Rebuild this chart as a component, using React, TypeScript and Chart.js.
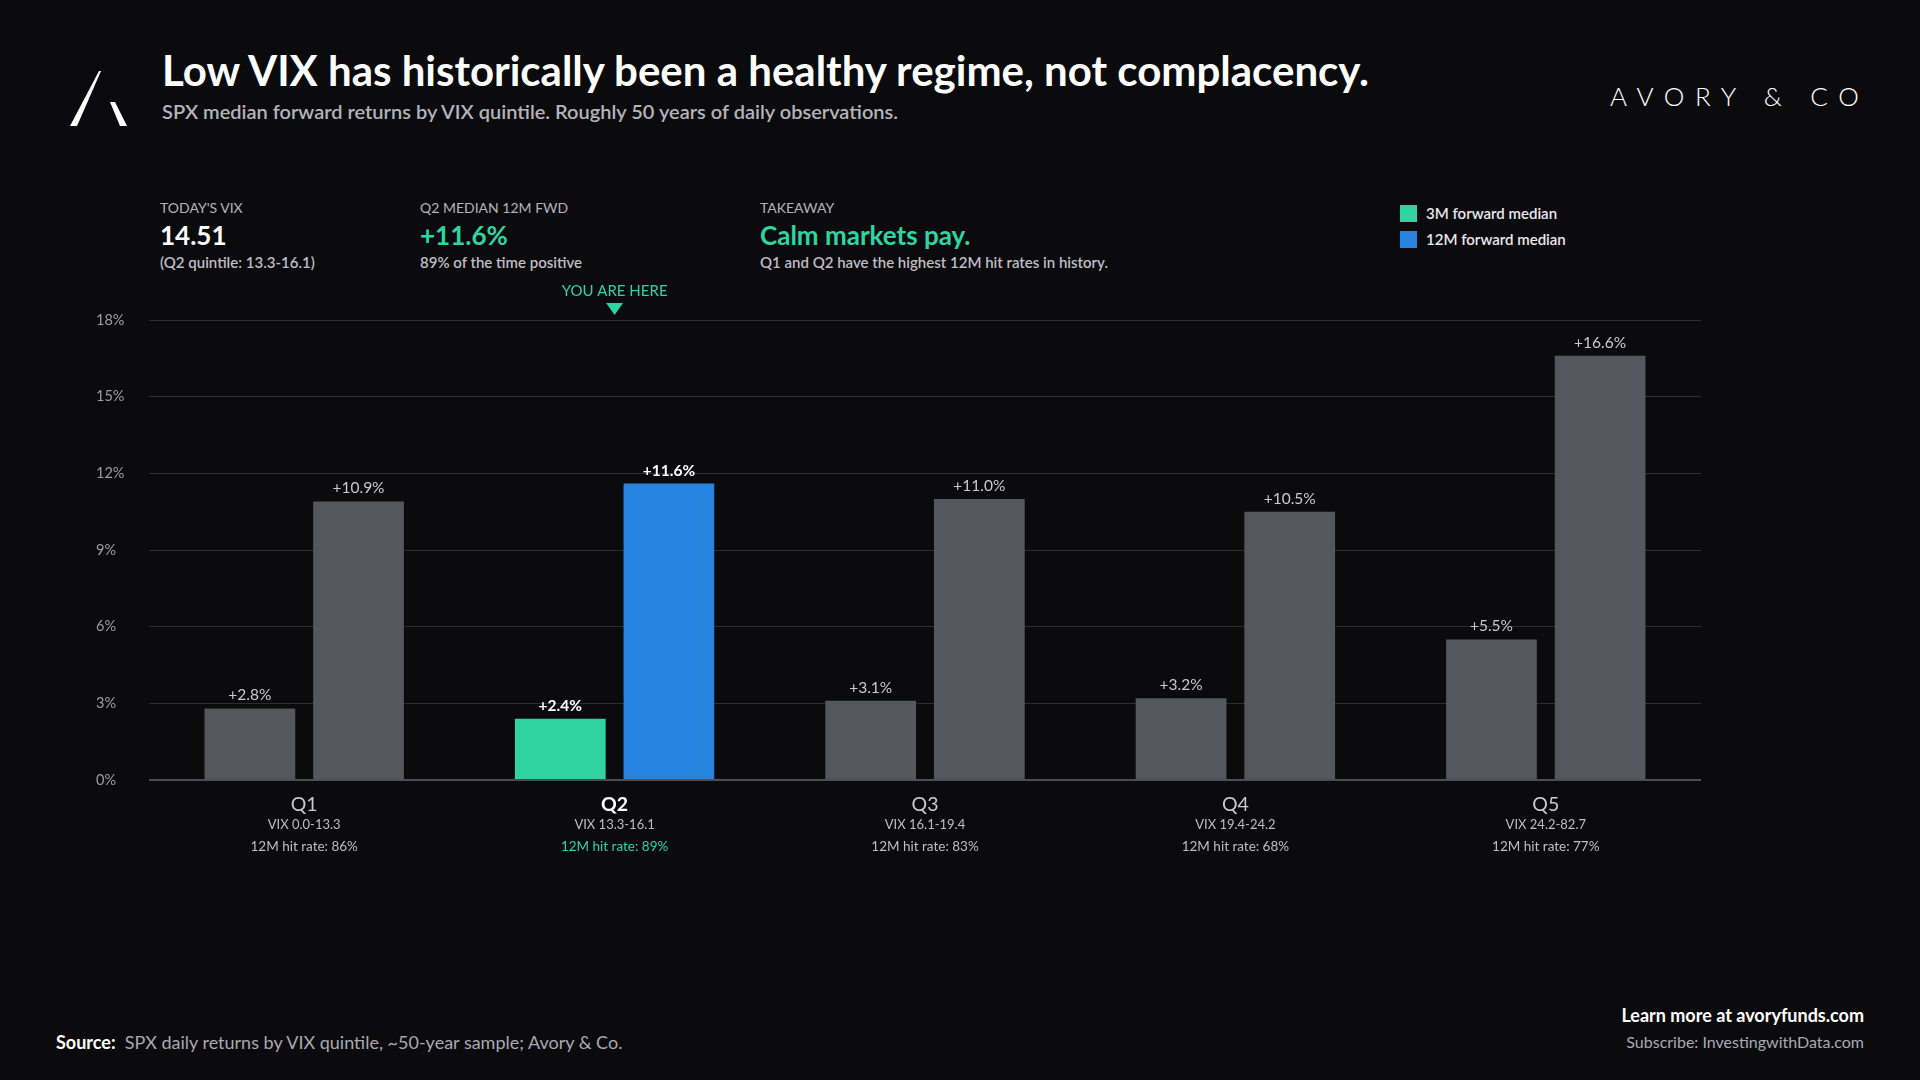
import React, { useEffect, useRef } from "react";
import Chart from "chart.js/auto";

const quintiles = ["Q1", "Q2", "Q3", "Q4", "Q5"];
const vixRanges = ["VIX 0.0-13.3", "VIX 13.3-16.1", "VIX 16.1-19.4", "VIX 19.4-24.2", "VIX 24.2-82.7"];
const hitRates = [86, 89, 83, 68, 77];
const fwd3m = [2.8, 2.4, 3.1, 3.2, 5.5];
const fwd12m = [10.9, 11.6, 11.0, 10.5, 16.6];
const yMax = 18;
const yStep = 3;
const currentIndex = 1;

const BG = "#0b0b0e";
const GREEN = "#2fd4a0";
const BLUE = "#2684df";
const GRAY = "#56565f";
const FONT = "Lato, 'Noto Sans', sans-serif";

const labelsPlugin = {
	id: "quintileLabels",
	afterDatasetsDraw(chart: any) {
		const { ctx, chartArea } = chart;
		const xScale = chart.scales.x;
		ctx.save();
		ctx.textAlign = "center";

		// value labels above bars
		chart.data.datasets.forEach((ds: any, di: number) => {
			const meta = chart.getDatasetMeta(di);
			meta.data.forEach((bar: any, i: number) => {
				const v = ds.data[i];
				const hi = i === currentIndex;
				ctx.font = (hi ? "bold " : "") + "15.5px " + FONT;
				ctx.fillStyle = hi ? "#ffffff" : "#c9c9d0";
				ctx.textBaseline = "alphabetic";
				ctx.fillText("+" + v.toFixed(1) + "%", bar.x, bar.y - 8);
			});
		});

		// category labels under the axis
		quintiles.forEach((q, i) => {
			const x = xScale.getPixelForValue(i);
			const hi = i === currentIndex;
			ctx.textBaseline = "middle";
			ctx.font = (hi ? "bold " : "") + "19.5px " + FONT;
			ctx.fillStyle = hi ? "#ffffff" : "#c8c8d0";
			ctx.fillText(q, x, chartArea.bottom + 25);
			ctx.font = "13px " + FONT;
			ctx.fillStyle = "#bdbdc5";
			ctx.fillText(vixRanges[i], x, chartArea.bottom + 45);
			ctx.font = "13.5px " + FONT;
			ctx.fillStyle = hi ? GREEN : "#bdbdc5";
			ctx.fillText("12M hit rate: " + hitRates[i] + "%", x, chartArea.bottom + 67);
		});

		// you are here marker
		const cx = xScale.getPixelForValue(currentIndex);
		ctx.fillStyle = GREEN;
		ctx.font = "15px " + FONT;
		ctx.textBaseline = "middle";
		ctx.fillText("YOU ARE HERE", cx, chartArea.top - 29);
		ctx.beginPath();
		ctx.moveTo(cx - 8.5, chartArea.top - 17);
		ctx.lineTo(cx + 8.5, chartArea.top - 17);
		ctx.lineTo(cx, chartArea.top - 5);
		ctx.closePath();
		ctx.fill();
		ctx.restore();
	},
};

const VixChart: React.FC = () => {
	const chartRef = useRef<HTMLCanvasElement>(null);
	const chartInstanceRef = useRef<Chart>();

	useEffect(() => {
		if (!chartRef.current) return;
		if (chartInstanceRef.current) chartInstanceRef.current.destroy();

		chartInstanceRef.current = new Chart(chartRef.current, {
			type: "bar",
			data: {
				labels: quintiles,
				datasets: [
					{
						label: "3M forward median",
						data: fwd3m,
						backgroundColor: (c: any) => (c.dataIndex === currentIndex ? GREEN : GRAY),
						categoryPercentage: 0.7,
						barPercentage: 0.835,
					},
					{
						label: "12M forward median",
						data: fwd12m,
						backgroundColor: (c: any) => (c.dataIndex === currentIndex ? BLUE : GRAY),
						categoryPercentage: 0.7,
						barPercentage: 0.835,
					},
				],
			},
			options: {
				animation: false,
				responsive: true,
				maintainAspectRatio: false,
				layout: { padding: { left: 6, right: 9, top: 40, bottom: 72 } },
				plugins: {
					legend: { display: false },
					tooltip: { enabled: false },
				},
				scales: {
					x: {
						grid: { display: false },
						border: { display: false },
						ticks: { display: false },
					},
					y: {
						min: 0,
						max: yMax,
						afterFit: (scale: any) => {
							scale.width = 53;
						},
						border: { display: false },
						grid: {
							drawTicks: false,
							color: (c: any) => (c.tick && c.tick.value === 0 ? "#4d4d55" : "#2b2b31"),
							lineWidth: (c: any) => (c.tick && c.tick.value === 0 ? 2 : 1),
						},
						ticks: {
							stepSize: yStep,
							crossAlign: "far",
							padding: 0,
							color: "#9c9ca4",
							font: { family: FONT, size: 14.5 },
							callback: (v: any) => v + "%",
						},
					},
				},
			},
			plugins: [labelsPlugin],
		});

		return () => {
			if (chartInstanceRef.current) {
				chartInstanceRef.current.destroy();
				chartInstanceRef.current = undefined;
			}
		};
	}, []);

	return (
		<div style={{ position: "absolute", left: 90, top: 280, width: 1620, height: 580 }}>
			<canvas ref={chartRef} />
		</div>
	);
};

const abs = (left: number, top: number, size: number, extra: React.CSSProperties = {}): React.CSSProperties => ({
	position: "absolute",
	left,
	top,
	fontSize: size,
	lineHeight: size + "px",
	whiteSpace: "nowrap",
	...extra,
});

const Stat: React.FC<{ x: number; label: string; value: string; sub: string; color: string }> = ({ x, label, value, sub, color }) => (
	<>
		<div style={abs(x, 201, 14, { color: "#b3b3bb" })}>{label}</div>
		<div style={abs(x, 222, 26, { color, fontWeight: 700 })}>{value}</div>
		<div style={abs(x, 255, 15, { color: "#bdbdc5", fontWeight: 600 })}>{sub}</div>
	</>
);

const App: React.FC = () => {
	return (
		<div
			style={{
				position: "absolute",
				left: 0,
				top: 0,
				width: 1920,
				height: 1080,
				background: BG,
				fontFamily: FONT,
				overflow: "hidden",
			}}
		>
			<svg style={{ position: "absolute", left: 70, top: 71 }} width={57} height={55} viewBox="0 0 57 55">
				<polygon points="0,55 7,55 31,0 29,0" fill="#ffffff" />
				<polygon points="40,31 45,31 57,55 50,55" fill="#ffffff" />
			</svg>
			<div style={abs(162, 49, 42, { color: "#ffffff", fontWeight: 700 })}>
				Low VIX has historically been a healthy regime, not complacency.
			</div>
			<div style={abs(162, 101, 20, { color: "#b4b4bc", fontWeight: 600 })}>
				SPX median forward returns by VIX quintile. Roughly 50 years of daily observations.
			</div>
			<div style={abs(1610, 83, 26, { color: "#ffffff", fontWeight: 300, letterSpacing: "0.41em" })}>AVORY &amp; CO</div>

			<Stat x={160} label="TODAY'S VIX" value="14.51" sub="(Q2 quintile: 13.3-16.1)" color="#ffffff" />
			<Stat x={420} label="Q2 MEDIAN 12M FWD" value="+11.6%" sub="89% of the time positive" color={GREEN} />
			<Stat x={760} label="TAKEAWAY" value="Calm markets pay." sub="Q1 and Q2 have the highest 12M hit rates in history." color={GREEN} />

			<div style={{ position: "absolute", left: 1400, top: 205, width: 17, height: 17, background: GREEN }} />
			<div style={abs(1426, 206, 15, { color: "#e8e8ee", fontWeight: 600 })}>3M forward median</div>
			<div style={{ position: "absolute", left: 1400, top: 231, width: 17, height: 17, background: BLUE }} />
			<div style={abs(1426, 232, 15, { color: "#e8e8ee", fontWeight: 600 })}>12M forward median</div>

			<VixChart />

			<div style={abs(56, 1033, 18, { color: "#a9a9b1" })}>
				<span style={{ color: "#ffffff", fontWeight: 700 }}>Source:</span>&nbsp; SPX daily returns by VIX quintile, ~50-year sample; Avory &amp; Co.
			</div>
			<div style={abs(0, 1006, 18, { color: "#ffffff", fontWeight: 700, left: "auto", right: 56 })}>Learn more at avoryfunds.com</div>
			<div style={abs(0, 1034, 16, { color: "#a9a9b1", left: "auto", right: 56 })}>Subscribe: InvestingwithData.com</div>
		</div>
	);
};

export default App;
